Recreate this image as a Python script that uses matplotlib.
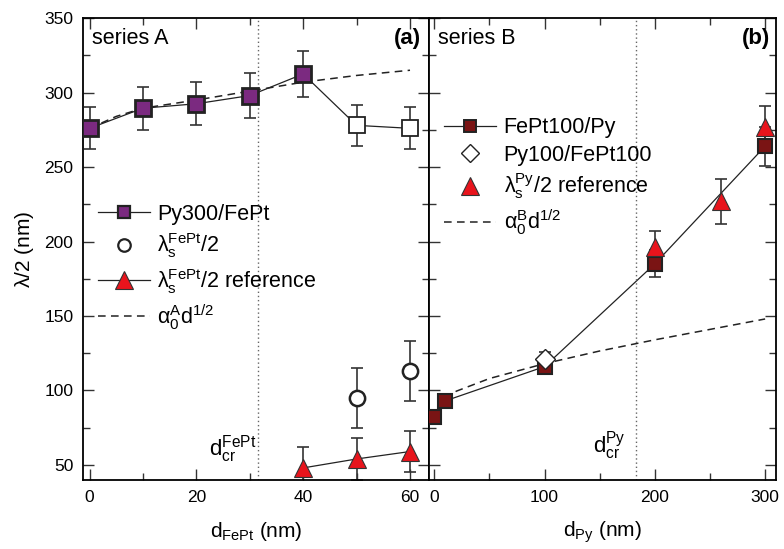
import matplotlib
matplotlib.use("Agg")
import matplotlib.pyplot as plt
from matplotlib.ticker import MultipleLocator

plt.rcParams["font.family"] = ["Liberation Sans", "DejaVu Sans"]
plt.rcParams["mathtext.fontset"] = "custom"
plt.rcParams["mathtext.rm"] = "Liberation Sans"
plt.rcParams["mathtext.it"] = "Liberation Sans:italic"
plt.rcParams["mathtext.default"] = "rm"

# ── series A: Py300/FePt(d) ─────────────────────────────────────────
a_x = [0, 10, 20, 30, 40]
a_y = [276, 289.5, 292.5, 298, 312.5]
a_err = [14, 14.5, 14.5, 15, 15.5]
a_open_x = [50, 60]
a_open_y = [278, 276]
a_open_err = [14, 14]
a_lam_x = [50, 60]
a_lam_y = [95, 113]
a_lam_err = [20, 20]
a_ref_x = [40, 50, 60]
a_ref_y = [48, 54, 59]
a_ref_err = [14, 14, 14]
a_fit_x = [0, 5, 10, 20, 30, 40, 50, 60]
a_fit_y = [276, 284, 289.5, 295, 301, 307, 311.5, 315]
a_dcr = 31.6

# ── series B: FePt100/Py(d) ─────────────────────────────────────────
b_x = [0, 10, 100, 200, 300]
b_y = [82.5, 93, 116, 185, 264]
b_err = [3, 4, 5, 9, 13]
b_dia_x = [100]
b_dia_y = [121]
b_dia_err = [5]
b_ref_x = [200, 260, 300]
b_ref_y = [196, 227, 277]
b_ref_err = [11, 15, 14]
b_fit_x = [10, 20, 50, 100, 150, 200, 250, 300]
b_fit_y = [94, 99.5, 108, 118, 126.5, 134, 141, 148]
b_dcr = 183

purple = "#7b2a80"
darkred = "#7a1414"
red = "#e8141c"
ebar = "#333333"
dash = (0, (5, 3.5))

fig = plt.figure(figsize=(7.84, 5.49), dpi=100)
axA = fig.add_axes([0.106, 0.126, 0.4415, 0.841])
axB = fig.add_axes([0.5475, 0.126, 0.4425, 0.841], sharey=axA)

eb_kw = dict(ecolor=ebar, elinewidth=1.2, capsize=4.5, capthick=1.2, zorder=2)

# ── panel (a) ───────────────────────────────────────────────────────
axA.plot(a_fit_x, a_fit_y, ls=dash, color="#222222", lw=1.1, zorder=1)
axA.plot(a_x + a_open_x, a_y + a_open_y, "-", color="#222222", lw=0.9, zorder=1)
axA.errorbar(a_x, a_y, yerr=a_err, fmt="none", **eb_kw)
axA.errorbar(a_open_x, a_open_y, yerr=a_open_err, fmt="none", **eb_kw)
axA.plot(a_x, a_y, "s", ms=11, mfc=purple, mec="#222222", mew=2, zorder=3)
axA.plot(a_open_x, a_open_y, "s", ms=11, mfc="white", mec="#222222", mew=1.3, zorder=3)
axA.errorbar(a_lam_x, a_lam_y, yerr=a_lam_err, fmt="none", **eb_kw)
axA.plot(a_lam_x, a_lam_y, "o", ms=11, mfc="white", mec="#222222", mew=1.8, zorder=3)
axA.errorbar(a_ref_x, a_ref_y, yerr=a_ref_err, fmt="none", **eb_kw)
axA.plot(a_ref_x, a_ref_y, "-", color="#222222", lw=0.9, zorder=1)
axA.plot(a_ref_x, a_ref_y, "^", ms=13, mfc=red, mec="#333333", mew=0.8, zorder=3)
axA.axvline(a_dcr, color="#666666", ls=(0, (1, 2)), lw=1)

hA = [
    axA.plot([], [], "-s", color="#222222", lw=0.9, ms=9, mfc=purple, mec="#222222", mew=1.6)[0],
    axA.plot([], [], "o", ms=9, mfc="white", mec="#222222", mew=1.6)[0],
    axA.plot([], [], "-^", color="#222222", lw=0.9, ms=13, mfc=red, mec="#333333", mew=0.8)[0],
    axA.plot([], [], ls=dash, color="#222222", lw=1.1)[0],
]
lA = [
    "Py300/FePt",
    r"$\lambda_s^{FePt}$/2",
    r"$\lambda_s^{FePt}$/2 reference",
    r"$\alpha_0^{A}$d$^{1/2}$",
]
axA.legend(hA, lA, loc="upper left", bbox_to_anchor=(0.0, 0.63), frameon=False,
           fontsize=15.5, handlelength=2.4, handletextpad=0.35, labelspacing=0.3,
           borderaxespad=0.3)

axA.text(0.025, 0.955, "series A", transform=axA.transAxes, fontsize=15.5, va="center")
axA.text(0.975, 0.955, "(a)", transform=axA.transAxes, fontsize=16, va="center",
         ha="right", fontweight="bold")
axA.text(22.3, 56, r"d$_{cr}^{FePt}$", fontsize=16, va="baseline")

axA.set_xlim(-1.2, 63.6)
axA.set_ylim(40, 350)
axA.xaxis.set_major_locator(MultipleLocator(20))
axA.xaxis.set_minor_locator(MultipleLocator(10))
axA.yaxis.set_major_locator(MultipleLocator(50))
axA.yaxis.set_minor_locator(MultipleLocator(25))
axA.set_xlabel(r"d$_{FePt}$ (nm)", fontsize=15, labelpad=11)
axA.set_ylabel(r"$\lambda$/2 (nm)", fontsize=15, labelpad=6)

# ── panel (b) ───────────────────────────────────────────────────────
axB.plot(b_fit_x, b_fit_y, ls=dash, color="#222222", lw=1.1, zorder=1)
axB.plot(b_x, b_y, "-", color="#222222", lw=0.9, zorder=1)
axB.errorbar(b_x, b_y, yerr=b_err, fmt="none", **eb_kw)
axB.errorbar(b_ref_x, b_ref_y, yerr=b_ref_err, fmt="none", **eb_kw)
axB.errorbar(b_dia_x, b_dia_y, yerr=b_dia_err, fmt="none", **eb_kw)
axB.plot(b_x, b_y, "s", ms=10, mfc=darkred, mec="#222222", mew=1.5, zorder=3)
axB.plot(b_dia_x, b_dia_y, "D", ms=10, mfc="white", mec="#222222", mew=1.0, zorder=4)
axB.plot(b_ref_x, b_ref_y, "^", ms=13, mfc=red, mec="#333333", mew=0.8, zorder=4)
axB.axvline(b_dcr, color="#666666", ls=(0, (1, 2)), lw=1)

hB = [
    axB.plot([], [], "-s", color="#222222", lw=0.9, ms=9, mfc=darkred, mec="#222222", mew=1.4)[0],
    axB.plot([], [], "D", ms=9, mfc="white", mec="#222222", mew=1.0)[0],
    axB.plot([], [], "^", ms=13, mfc=red, mec="#333333", mew=0.8)[0],
    axB.plot([], [], ls=dash, color="#222222", lw=1.1)[0],
]
lB = [
    "FePt100/Py",
    "Py100/FePt100",
    r"$\lambda_s^{Py}$/2 reference",
    r"$\alpha_0^{B}$d$^{1/2}$",
]
axB.legend(hB, lB, loc="upper left", bbox_to_anchor=(0.0, 0.818), frameon=False,
           fontsize=15.5, handlelength=2.4, handletextpad=0.35, labelspacing=0.3,
           borderaxespad=0.3)

axB.text(0.025, 0.955, "series B", transform=axB.transAxes, fontsize=15.5, va="center")
axB.text(0.983, 0.955, "(b)", transform=axB.transAxes, fontsize=16, va="center",
         ha="right", fontweight="bold")
axB.text(144, 58.5, r"d$_{cr}^{Py}$", fontsize=16, va="baseline")

axB.set_xlim(-4.5, 310)
axB.xaxis.set_major_locator(MultipleLocator(100))
axB.xaxis.set_minor_locator(MultipleLocator(50))
axB.set_xlabel(r"d$_{Py}$ (nm)", fontsize=15, labelpad=11)
axB.tick_params(axis="y", labelleft=False)

for ax in (axA, axB):
    ax.tick_params(which="both", direction="in", top=True, right=True,
                   labelsize=12.5, pad=7, color="#333333")
    ax.tick_params(which="major", length=8, width=1)
    ax.tick_params(which="minor", length=5, width=1)
    for s in ax.spines.values():
        s.set_linewidth(1.3)

fig.savefig("out.png", dpi=100)
